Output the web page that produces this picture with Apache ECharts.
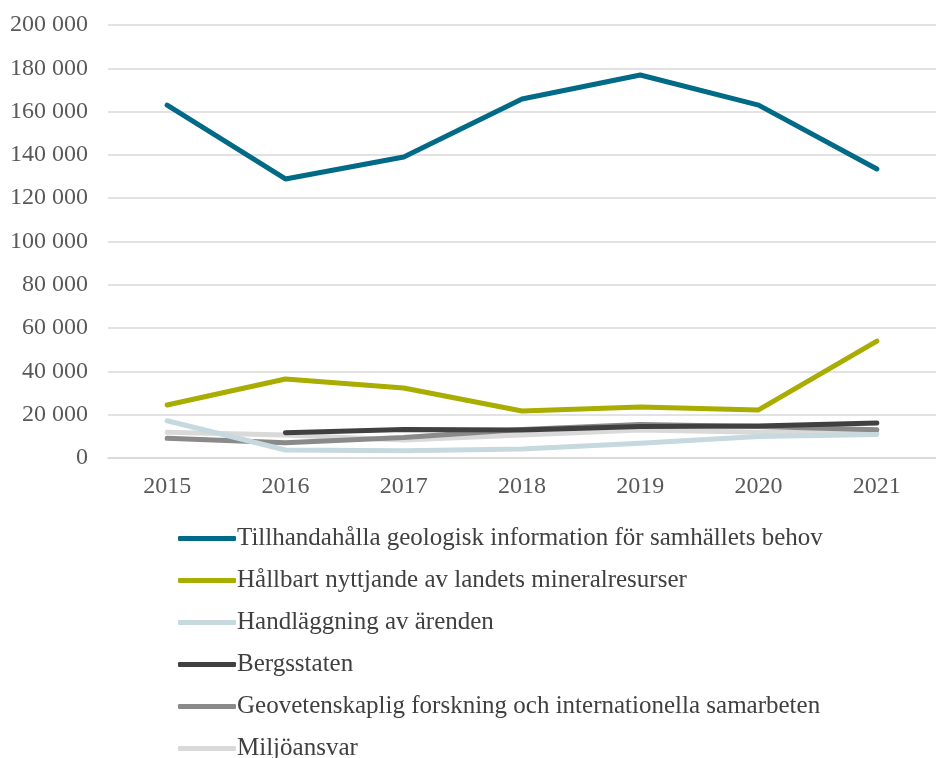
<!DOCTYPE html>
<html>
<head>
<meta charset="utf-8">
<script src="https://cdn.jsdelivr.net/npm/echarts@6/dist/echarts.min.js"></script>
<style>html,body{margin:0;padding:0;background:#fff}#c{width:936px;height:758px}</style>
</head>
<body>
<div id="c"></div>
<script>
const years = ['2015','2016','2017','2018','2019','2020','2021'];
const names = [
  'Tillhandahålla geologisk information för samhällets behov',
  'Hållbart nyttjande av landets mineralresurser',
  'Handläggning av ärenden',
  'Bergsstaten',
  'Geovetenskaplig forskning och internationella samarbeten',
  'Miljöansvar'
];
const geoInfo = [163000, 128900, 139000, 165800, 176900, 163000, 133500];
const mineral = [24500, 36500, 32300, 21700, 23600, 22200, 54000];
const arenden = [17200, 3700, 3400, 4200, 6800, 9900, 10900];
const bergsstaten = [null, 11700, 13200, 12900, 14500, 14800, 16200];
const forskning = [9100, 7100, 9500, 13200, 15500, 14500, 13000];
const miljo = [11900, 10600, 8300, 10600, 12900, 11900, 11700];
const colors = ['#006a87', '#a8ad00', '#c6d9df', '#404040', '#8a8a8a', '#d9d9d9'];
const dataSets = [geoInfo, mineral, arenden, bergsstaten, forskning, miljo];

const font = '"Liberation Serif", "Times New Roman", serif';
const chart = echarts.init(document.getElementById('c'));
chart.setOption({
  animation: false,
  backgroundColor: '#fff',
  color: colors,
  grid: { left: 108, top: 25, width: 838, height: 433, containLabel: false },
  xAxis: {
    type: 'category',
    data: years,
    boundaryGap: true,
    axisLine: { show: true, lineStyle: { color: '#d9d9d9', width: 1.5 } },
    axisTick: { show: false },
    axisLabel: { color: '#595959', fontFamily: font, fontSize: 24, margin: 17 }
  },
  yAxis: {
    type: 'value',
    min: 0, max: 200000, interval: 20000,
    axisLine: { show: false },
    axisTick: { show: false },
    splitLine: { lineStyle: { color: '#d9d9d9', width: 1.5 } },
    axisLabel: {
      color: '#595959', fontFamily: font, fontSize: 24, margin: 20,
      formatter: v => v === 0 ? '0' : String(v).replace(/\B(?=(\d{3})+(?!\d))/g, ' ')
    }
  },
  legend: {
    orient: 'vertical',
    left: 173, top: 521, height: 400,
    icon: 'roundRect',
    itemWidth: 58, itemHeight: 5, itemGap: 17,
    textStyle: { color: '#404040', fontFamily: font, fontSize: 25, lineHeight: 25, padding: [0, 0, 0, -4] },
    data: names
  },
  series: names.map((n, i) => ({
    name: n,
    type: 'line',
    data: dataSets[i],
    symbol: 'none',
    z: 10 - i,
    lineStyle: { width: 5, color: colors[i], cap: 'round', join: 'round' },
    itemStyle: { color: colors[i] }
  }))
});
</script>
</body>
</html>
